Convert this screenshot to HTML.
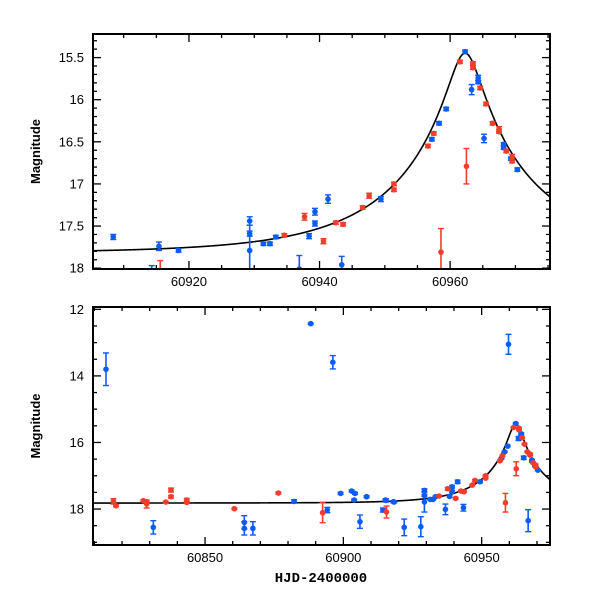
<!DOCTYPE html>
<html><head><meta charset="utf-8"><style>
html,body{margin:0;padding:0;background:#fff;}
svg{display:block;font-family:"Liberation Sans",Arial,sans-serif;}
</style></head><body>
<svg id="chart" width="600" height="600" viewBox="0 0 600 600" xmlns="http://www.w3.org/2000/svg"></svg>
<script>
// Shared data (top panel + appears in bottom panel)
const blueT = [60908.4,60915.4,60918.4,60914.3,60929.3,60929.3,60929.3,60931.4,60932.4,60933.3,60938.4,60939.3,60939.3,60941.3,60936.9,60943.4,60949.4,60957.2,60958.3,60959.4,60962.3,60963.3,60964.3,60964.3,60965.2,60968.2,60968.2,60969.3,60970.3];
const blueM = [17.63,17.74,17.79,18.03,17.44,17.59,17.79,17.71,17.71,17.63,17.62,17.33,17.47,17.18,18.01,17.96,17.18,16.47,16.28,16.11,15.43,15.88,15.74,15.79,16.46,16.53,16.57,16.70,16.83];
const blueE = [0.03,0.05,0.02,0.06,0.05,0.03,0.3,0.02,0.02,0.02,0.03,0.04,0.03,0.05,0.16,0.1,0.03,0.02,0.02,0.02,0.02,0.06,0.03,0.02,0.05,0.02,0.02,0.02,0.02];
const redT = [60915.6,60934.6,60937.7,60940.6,60942.5,60943.6,60946.6,60947.6,60951.4,60951.4,60956.6,60957.5,60958.6,60961.5,60962.5,60963.5,60963.5,60964.6,60965.5,60966.5,60967.5,60967.5,60968.6,60969.5,60969.5];
const redM = [18.09,17.61,17.39,17.68,17.46,17.48,17.28,17.14,17.07,17.0,16.55,16.40,17.81,15.55,16.79,15.57,15.62,15.86,16.05,16.28,16.35,16.38,16.61,16.68,16.73];
const redE = [0.18,0.02,0.04,0.03,0.02,0.02,0.02,0.03,0.02,0.02,0.02,0.02,0.28,0.02,0.21,0.02,0.02,0.02,0.02,0.02,0.03,0.02,0.02,0.03,0.02];
// Extra data only visible in bottom panel
const blueBT = [60814.2,60831.3,60864.2,60864.2,60867.3,60882.2,60888.2,60894.2,60896.2,60899.0,60903.0,60904.2,60903.9,60906.0,60915.2,60918.1,60922.0,60928.0,60959.7,60966.8];
const blueBM = [13.80,18.55,18.40,18.58,18.58,17.77,12.43,18.03,13.59,17.53,17.46,17.53,17.73,18.38,17.73,17.78,18.55,18.53,13.05,18.35];
const blueBE = [0.49,0.2,0.2,0.2,0.2,0.05,0.02,0.08,0.2,0.03,0.03,0.03,0.03,0.2,0.03,0.03,0.25,0.3,0.3,0.33];
const redBT = [60816.9,60817.8,60827.7,60828.9,60828.9,60835.8,60837.7,60837.7,60843.4,60843.4,60860.6,60876.5,60892.5];
const redBM = [17.77,17.90,17.75,17.78,17.85,17.79,17.43,17.63,17.73,17.80,17.99,17.52,18.11];
const redBE = [0.08,0.03,0.03,0.03,0.12,0.02,0.06,0.04,0.05,0.03,0.02,0.03,0.3];
// model parameters
const t0 = 60962.3, u0 = 0.113, tE = 21.5, mBase = 17.82;
const topXTicks = [60920,60940,60960];
const topYTicks = [15.5,16,16.5,17,17.5,18];
const botXTicks = [60850,60900,60950];
const botYTicks = [12,14,16,18];

const NS="http://www.w3.org/2000/svg";
const svg=document.getElementById('chart');
const BLUE="#0b5cf2", RED="#f23d2c";
function el(tag,attrs,parent){const e=document.createElementNS(NS,tag);for(const k in attrs)e.setAttribute(k,attrs[k]);(parent||svg).appendChild(e);return e;}
function model(t){const u=Math.sqrt(u0*u0+Math.pow((t-t0)/tE,2));const A=(u*u+2)/(u*Math.sqrt(u*u+4));return mBase-2.5*Math.log10(A);}

function panel(name,L,T,R,B,x0,x1,y0,y1,xMaj,xMin,yMaj,yMin,xTicks,yTicks,yFmt,series){
  const sx=v=>L+(v-x0)/(x1-x0)*(R-L), sy=v=>T+(v-y0)/(y1-y0)*(B-T);
  const g=el('g',{});
  
  
  const cid='clip-'+name;
  const cp=el('clipPath',{id:cid},g);el('rect',{x:L,y:T,width:R-L,height:B-T},cp);
  // ticks
  const tk=el('g',{stroke:'#000','stroke-width':1.3},g);
  
  
  for(let v=Math.ceil(x0/xMin)*xMin; v<=x1; v+=xMin){const x=sx(v);const maj=Math.abs(v/xMaj-Math.round(v/xMaj))<1e-6;const l=maj?8:4;
    el('line',{x1:x,y1:B,x2:x,y2:B-l},tk);el('line',{x1:x,y1:T,x2:x,y2:T+l},tk);}
  for(let v=Math.ceil(y0/yMin-1e-6)*yMin; v<=y1+1e-6; v+=yMin){const y=sy(v);const maj=Math.abs(v/yMaj-Math.round(v/yMaj))<1e-6;const l=maj?8:4;
    el('line',{x1:L,y1:y,x2:L+l,y2:y},tk);el('line',{x1:R,y1:y,x2:R-l,y2:y},tk);}
  xTicks.forEach(v=>{const t=el('text',{x:sx(v),y:B+17,'text-anchor':'middle','font-size':13},g);t.textContent=v;
    
    });
  yTicks.forEach(v=>{const t=el('text',{x:L-9,y:sy(v)+4.5,'text-anchor':'end','font-size':13},g);t.textContent=yFmt(v);
    
    });
  const yl=el('text',{x:0,y:0,'text-anchor':'middle','font-size':13,'font-weight':'bold',transform:`translate(40,${(T+B)/2}) rotate(-90)`},g);
  yl.textContent='Magnitude';
  
  
  const inner=el('g',{'clip-path':`url(#${cid})`},g);
  // model curve
  let d='';for(let i=0;i<=600;i++){const t=x0+(x1-x0)*i/600;d+=(i?'L':'M')+sx(t).toFixed(2)+' '+sy(model(t)).toFixed(2);}
  const c=el('path',{d:d,fill:'none',stroke:'#000','stroke-width':1.6},inner);
  
  
  series.forEach(s=>{
    for(let i=0;i<s.t.length;i++){
      const x=sx(s.t[i]),y=sy(s.m[i]),e=s.e[i];
      const pg=el('g',{stroke:s.c,fill:s.c},inner);
      
      
      const ya=sy(s.m[i]-e),yb=sy(s.m[i]+e);
      el('line',{x1:x,y1:ya,x2:x,y2:yb,'stroke-width':1.6},pg);
      el('line',{x1:x-3,y1:ya,x2:x+3,y2:ya,'stroke-width':1.4},pg);
      el('line',{x1:x-3,y1:yb,x2:x+3,y2:yb,'stroke-width':1.4},pg);
      el('circle',{cx:x,cy:y,r:2.8,stroke:'none'},pg);
    }
  });
  const fr=el('rect',{x:L,y:T,width:R-L,height:B-T,fill:'none',stroke:'#000','stroke-width':2},g);
  
  
}
const fmtTop=v=>(Math.round(v)===v?String(v):String(v));
panel('top-panel',93,34,550,269,60905.3,60975.3,15.22,18.01,20,5,0.5,0.1,topXTicks,topYTicks,fmtTop,[
  {t:blueT,m:blueM,e:blueE,c:BLUE,n:'blue-band'},{t:redT,m:redM,e:redE,c:RED,n:'red-band'}]);
panel('bottom-panel',93,307,550,545,60809.5,60974.7,11.93,19.08,50,10,2,0.5,botXTicks,botYTicks,v=>String(v),[
  {t:blueT.concat(blueBT),m:blueM.concat(blueBM),e:blueE.concat(blueBE),c:BLUE,n:'blue-band'},
  {t:redT.concat(redBT),m:redM.concat(redBM),e:redE.concat(redBE),c:RED,n:'red-band'}]);
const xl=el('text',{x:321,y:582,'text-anchor':'middle','font-size':14,'font-family':'"Liberation Mono",monospace','font-weight':'bold'});
xl.textContent='HJD-2400000';


</script>
</body></html>
